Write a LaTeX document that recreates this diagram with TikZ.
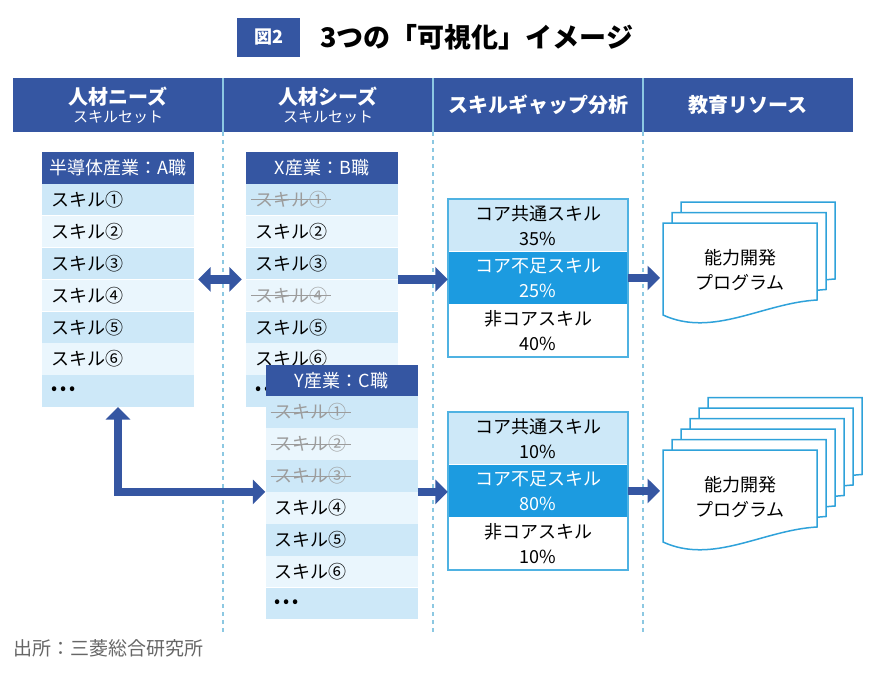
\documentclass[tikz,border=0pt]{standalone}
\usepackage{fontspec}
\setmainfont{Noto Sans CJK JP}
\usetikzlibrary{positioning,arrows.meta}

\definecolor{navy}{HTML}{3556A2}
\definecolor{rowdark}{HTML}{CDE8F8}
\definecolor{rowlight}{HTML}{EAF6FD}
\definecolor{lackblue}{HTML}{1C9BE0}
\definecolor{frameblue}{HTML}{4FB2E2}
\definecolor{docblue}{HTML}{2FA2DA}
\definecolor{dashblue}{HTML}{8CC8E2}
\definecolor{struckgray}{HTML}{9C9C9C}

\newcommand{\skillout}[1]{\leavevmode\setbox0\hbox{#1}\rlap{\kern-4pt\rule[0.34em]{\dimexpr\wd0+8pt\relax}{0.9pt}}\box0}

\begin{document}
\begin{tikzpicture}[x=1pt,y=-1pt,node distance=0pt,
    fat/.tip={Triangle[width=24pt,length=12.5pt]},
    fat arrow/.style={draw=navy,line width=8.3pt,-fat},
    colhead/.style={text=white,align=center,inner sep=0pt,font=\fontsize{20}{22}\selectfont\bfseries},
    tabhead/.style={fill=navy,text=white,minimum width=152pt,minimum height=31.5pt,inner sep=0pt,font=\fontsize{18}{20}\selectfont},
    rowbase/.style={minimum height=31.5pt,text width=134pt,inner xsep=9pt,inner ysep=0pt,align=left,font=\fontsize{18}{20}\selectfont},
    skilla/.style={rowbase,fill=rowdark},
    skillb/.style={rowbase,fill=rowlight},
    gone/.style={text=struckgray},
    share/.style={minimum width=180pt,minimum height=52.3pt,inner sep=0pt,align=center,font=\fontsize{18}{25}\selectfont},
    progtext/.style={align=center,inner sep=0pt,font=\fontsize{18}{25}\selectfont},
    doc/.pic={\draw[docblue,line width=1.5pt,fill=white] (0,0) -- (154,0) -- (154,77)
        .. controls (100,80) and (50,115) .. (0,92) -- cycle;
        \coordinate (-w) at (0,46);}]

    \useasboundingbox (0,0) rectangle (870,672);

    % Title
    \node[fill=navy,text=white,minimum width=63pt,minimum height=39pt,inner sep=0pt,
          font=\fontsize{18}{20}\selectfont\bfseries] (fignum) at (268.5,37.5) {図2};
    \node[right=20pt of fignum,inner sep=0pt,font=\fontsize{27}{30}\selectfont\bfseries] (title) {3つの「可視化」イメージ};

    % Column headers
    \fill[navy] (13,78) rectangle (853,132);
    \node[colhead] (needs) at (118,105) {人材ニーズ\\[-4pt]{\fontsize{15}{17}\selectfont\mdseries スキルセット}};
    \node[colhead] (seeds) at (328,105) {人材シーズ\\[-4pt]{\fontsize{15}{17}\selectfont\mdseries スキルセット}};
    \node[colhead] (gap) at (538,105) {スキルギャップ分析};
    \node[colhead] (edu) at (748,105) {教育リソース};
    \draw[dashblue,line width=1.2pt] (223,78) -- (223,132) (433,78) -- (433,132) (643,78) -- (643,132);
    \draw[dashblue,line width=1.5pt,dash pattern=on 4pt off 4pt]
        (223,132) -- (223,632) (433,132) -- (433,632) (643,132) -- (643,632);

    % Needs: A
    \node[tabhead] (a0) at (118,167.75) {半導体産業：A職};
    \node[skilla,below=of a0] (a1) {スキル①};
    \node[skillb,below=of a1] (a2) {スキル②};
    \node[skilla,below=of a2] (a3) {スキル③};
    \node[skillb,below=of a3] (a4) {スキル④};
    \node[skilla,below=of a4] (a5) {スキル⑤};
    \node[skillb,below=of a5] (a6) {スキル⑥};
    \node[skilla,below=of a6] (a7) {•\kern3pt•\kern3pt•};

    % Seeds: B
    \node[tabhead] (b0) at (322,167.75) {X産業：B職};
    \node[skilla,gone,below=of b0] (b1) {\skillout{スキル①}};
    \node[skillb,below=of b1] (b2) {スキル②};
    \node[skilla,below=of b2] (b3) {スキル③};
    \node[skillb,gone,below=of b3] (b4) {\skillout{スキル④}};
    \node[skilla,below=of b4] (b5) {スキル⑤};
    \node[skillb,below=of b5] (b6) {スキル⑥};
    \node[skilla,below=of b6] (b7) {•\kern3pt•\kern3pt•};

    % Seeds: C
    \node[tabhead] (c0) at (341.5,380.25) {Y産業：C職};
    \node[skilla,gone,below=of c0] (c1) {\skillout{スキル①}};
    \node[skillb,gone,below=of c1] (c2) {\skillout{スキル②}};
    \node[skilla,gone,below=of c2] (c3) {\skillout{スキル③}};
    \node[skillb,below=of c3] (c4) {スキル④};
    \node[skilla,below=of c4] (c5) {スキル⑤};
    \node[skillb,below=of c5] (c6) {スキル⑥};
    \node[skilla,below=of c6] (c7) {•\kern3pt•\kern3pt•};

    % Gap analysis
    \node[share,fill=rowdark] (core1) at (538,225.2) {コア共通スキル\\35\%};
    \node[share,fill=lackblue,text=white,below=of core1] (lack1) {コア不足スキル\\25\%};
    \node[share,fill=white,below=of lack1] (non1) {非コアスキル\\40\%};
    \draw[frameblue,line width=1.5pt] (core1.north west) rectangle (non1.south east);

    \node[share,fill=rowdark] (core2) at (538,438.2) {コア共通スキル\\10\%};
    \node[share,fill=lackblue,text=white,below=of core2] (lack2) {コア不足スキル\\80\%};
    \node[share,fill=white,below=of lack2] (non2) {非コアスキル\\10\%};
    \draw[frameblue,line width=1.5pt] (core2.north west) rectangle (non2.south east);

    % Programs
    \pic at (681,202) {doc};
    \pic at (672,212.5) {doc};
    \pic (doca) at (663,223) {doc};
    \node[progtext] (prog1) at (740,270) {能力開発\\プログラム};

    \pic at (708,397.5) {doc};
    \pic at (699,408) {doc};
    \pic at (690,418.5) {doc};
    \pic at (681,429) {doc};
    \pic at (672,439.5) {doc};
    \pic (docb) at (663,450) {doc};
    \node[progtext] (prog2) at (740,497) {能力開発\\プログラム};

    % Arrows
    \draw[fat arrow,fat-fat,shorten <=4pt,shorten >=4pt] (a3.south east) -- (b3.south west);
    \draw[fat arrow,fat-fat] (a7.south) |- (c3.south west);
    \draw[fat arrow] (b3.south east) -- (b3.south east -| core1.west);
    \draw[fat arrow] (c3.south east) -- (c3.south east -| core2.west);
    \draw[fat arrow,shorten >=3pt] (core1.east |- lack1.center) -- (lack1.center -| doca-w);
    \draw[fat arrow,shorten >=3pt] (core2.east |- lack2.center) -- (lack2.center -| docb-w);

    % Source
    \node[anchor=west,inner sep=0pt,text=black!60,font=\fontsize{19}{21}\selectfont] (source) at (13,648) {出所：三菱総合研究所};

\end{tikzpicture}
\end{document}
